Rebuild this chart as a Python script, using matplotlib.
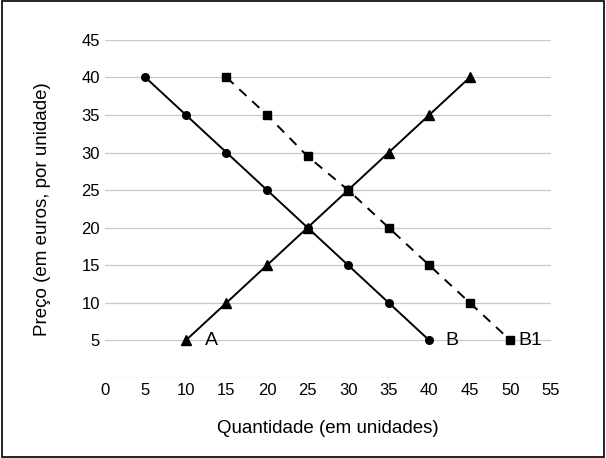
import matplotlib.pyplot as plt
from matplotlib.patches import Rectangle

plt.rcParams['font.family'] = ['Liberation Sans', 'DejaVu Sans']

qty_a = [10, 15, 20, 25, 30, 35, 40, 45]
price_a = [5, 10, 15, 20, 25, 30, 35, 40]
qty_b = [5, 10, 15, 20, 25, 30, 35, 40]
price_b = [40, 35, 30, 25, 20, 15, 10, 5]
qty_b1 = [15, 20, 25, 30, 35, 40, 45, 50]
price_b1 = [40, 35, 29.5, 25, 20, 15, 10, 5]

fig = plt.figure(figsize=(6.06, 4.58), dpi=100)
fig.patches.append(Rectangle((0.003, 0.003), 0.994, 0.994, transform=fig.transFigure,
                             fill=False, edgecolor='black', linewidth=1.2))
ax = fig.add_axes([0.173, 0.175, 0.736, 0.738])

ax.plot(qty_a, price_a, color='black', marker='^', markersize=7, linewidth=1.4)
ax.plot(qty_b, price_b, color='black', marker='o', markersize=5.5, linewidth=1.4)
ax.plot(qty_b1, price_b1, color='black', marker='s', markersize=5.5, linewidth=1.4,
        linestyle=(0, (5, 4)))

ax.text(qty_a[0] + 2.3, price_a[0], 'A', fontsize=14, va='center')
ax.text(qty_b[-1] + 2, price_b[-1], 'B', fontsize=14, va='center')
ax.text(qty_b1[-1] + 1, price_b1[-1], 'B1', fontsize=14, va='center')

ax.set_xlim(0, 55)
ax.set_ylim(0, 45)
ax.set_xticks(range(0, 56, 5))
ax.set_yticks(range(5, 46, 5))
ax.tick_params(length=0, labelsize=12)
ax.grid(axis='y', color='#c8c8c8', linewidth=0.9)
ax.axhline(0, color='#c8c8c8', linewidth=0.9)
ax.set_axisbelow(True)
for s in ax.spines.values():
    s.set_visible(False)
ax.set_xlabel('Quantidade (em unidades)', fontsize=13.5, labelpad=16)
ax.set_ylabel('Preço (em euros, por unidade)', fontsize=13.5, labelpad=22)

fig.savefig('out.png', dpi=100)
